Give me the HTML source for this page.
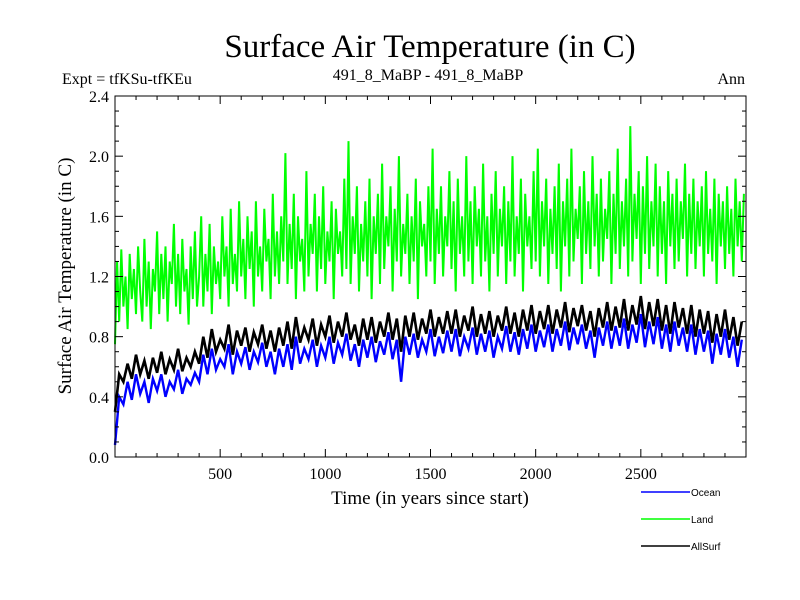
<!DOCTYPE html>
<html><head><meta charset="utf-8"><style>
body{margin:0;background:#fff}
svg{display:block}
.s{font-family:"Liberation Serif",serif;fill:#000}
.l{font-family:"Liberation Sans",sans-serif;font-size:10px;fill:#000}
</style></head><body>
<svg id="c" width="800" height="600" xmlns="http://www.w3.org/2000/svg">
<text class="s" x="430" y="57" font-size="33" text-anchor="middle">Surface Air Temperature (in C)</text>
<text class="s" x="62" y="84" font-size="16">Expt = tfKSu-tfKEu</text>
<text class="s" x="428" y="80" font-size="16" text-anchor="middle">491_8_MaBP - 491_8_MaBP</text>
<text class="s" x="745" y="84" font-size="16" text-anchor="end">Ann</text>
<text class="s" transform="translate(71,276) rotate(-90)" font-size="19" text-anchor="middle">Surface Air Temperature (in C)</text>
<text class="s" x="430" y="504" font-size="19" text-anchor="middle">Time (in years since start)</text>
<g id="series"></g>
<rect x="115" y="96" width="631" height="361" fill="none" stroke="#000" stroke-width="1"/>
<g id="ticks"></g>
<g>
<line x1="641" y1="492" x2="690" y2="492" stroke="#0000ff" stroke-width="1.5"/>
<text class="l" x="691" y="496">Ocean</text>
<line x1="641" y1="519" x2="690" y2="519" stroke="#00ff00" stroke-width="1.5"/>
<text class="l" x="691" y="523">Land</text>
<line x1="641" y1="546" x2="690" y2="546" stroke="#000" stroke-width="1.5"/>
<text class="l" x="691" y="550">AllSurf</text>
</g>
</svg>
<script>
const landYearStep = 10;
const yearStep = 20;
const landValues = [0.75,1.3,0.9,1.38,1.0,1.2,0.85,1.35,1.05,1.25,
0.95,1.4,1.1,0.9,1.45,1.0,1.3,0.85,1.25,1.1,
1.5,0.95,1.35,1.05,1.4,0.9,1.3,1.15,1.55,1.0,
1.35,0.95,1.45,1.1,1.25,0.88,1.4,1.05,1.5,1.0,
1.2,1.6,1.0,1.35,1.1,1.55,0.95,1.4,1.15,1.3,
1.05,1.6,1.2,1.4,1.0,1.65,1.15,1.35,1.1,1.7,
1.2,1.45,1.05,1.6,1.25,1.5,1.0,1.7,1.2,1.4,
1.1,1.65,1.3,1.45,1.05,1.75,1.2,1.5,1.15,1.6,
1.3,2.02,1.15,1.55,1.25,1.75,1.05,1.6,1.3,1.45,
1.1,1.9,1.2,1.55,1.35,1.75,1.1,1.6,1.25,1.8,
1.15,1.5,1.3,1.7,1.05,1.65,1.35,1.5,1.2,1.85,
1.25,2.1,1.15,1.6,1.35,1.8,1.1,1.55,1.3,1.7,
1.2,1.85,1.05,1.6,1.35,1.75,1.15,1.95,1.25,1.6,
1.4,1.8,1.1,1.65,1.3,2.0,1.2,1.55,1.35,1.75,
1.15,1.6,1.3,1.85,1.05,1.7,1.4,1.55,1.2,1.8,
1.3,2.05,1.15,1.65,1.35,1.8,1.2,1.6,1.4,1.9,
1.25,1.7,1.1,1.85,1.35,1.6,1.2,2.0,1.3,1.7,
1.15,1.8,1.4,1.65,1.2,1.95,1.3,1.6,1.1,1.75,
1.35,1.9,1.2,1.65,1.4,1.8,1.15,1.7,1.3,2.0,
1.2,1.6,1.35,1.85,1.1,1.75,1.4,1.6,1.25,1.9,
1.3,2.05,1.2,1.7,1.4,1.85,1.15,1.65,1.35,1.8,
1.25,1.95,1.1,1.7,1.4,1.85,1.2,2.05,1.3,1.65,
1.45,1.8,1.15,1.9,1.35,1.7,1.25,2.0,1.4,1.75,
1.2,1.85,1.3,1.65,1.45,1.9,1.15,1.75,1.35,2.05,
1.25,1.7,1.4,1.85,1.2,2.2,1.3,1.75,1.45,1.9,
1.15,1.8,1.35,2.0,1.25,1.7,1.4,1.95,1.2,1.8,
1.35,1.7,1.15,1.9,1.4,1.75,1.25,1.85,1.3,1.7,
1.45,1.95,1.2,1.75,1.35,1.85,1.25,1.7,1.4,1.8,
1.2,1.9,1.35,1.65,1.3,1.85,1.15,1.75,1.4,1.7,
1.25,1.8,1.35,1.65,1.2,1.85,1.4,1.7,1.3,1.75];
const oceanValues = [0.08,0.4,0.35,0.5,0.38,0.55,0.42,0.5,0.36,0.52,0.44,0.55,0.4,0.5,0.45,0.58,0.42,0.52,0.48,0.56,
0.5,0.68,0.55,0.72,0.58,0.65,0.6,0.75,0.55,0.7,0.62,0.73,0.58,0.7,0.63,0.76,0.6,0.7,0.55,0.72,
0.6,0.75,0.58,0.8,0.62,0.72,0.65,0.78,0.6,0.74,0.66,0.8,0.62,0.76,0.68,0.82,0.64,0.75,0.6,0.78,
0.66,0.8,0.63,0.77,0.68,0.83,0.65,0.78,0.5,0.8,0.68,0.82,0.66,0.78,0.7,0.85,0.67,0.8,0.69,0.84,
0.7,0.85,0.67,0.8,0.72,0.86,0.68,0.82,0.7,0.84,0.66,0.8,0.72,0.87,0.7,0.83,0.68,0.85,0.72,0.88,
0.7,0.84,0.73,0.88,0.7,0.85,0.74,0.9,0.71,0.86,0.75,0.88,0.72,0.84,0.66,0.86,0.74,0.9,0.72,0.87,
0.74,0.92,0.72,0.88,0.76,0.95,0.73,0.9,0.75,0.93,0.72,0.88,0.7,0.9,0.74,0.86,0.7,0.88,0.68,0.85,
0.7,0.84,0.62,0.82,0.68,0.85,0.66,0.8,0.6,0.78];
const allSurfValues = [0.3,0.55,0.5,0.62,0.52,0.68,0.55,0.64,0.52,0.66,0.56,0.7,0.55,0.65,0.58,0.72,0.57,0.66,0.6,0.7,
0.62,0.8,0.66,0.85,0.7,0.78,0.72,0.88,0.68,0.84,0.74,0.86,0.7,0.83,0.75,0.88,0.72,0.84,0.7,0.86,
0.74,0.9,0.72,0.93,0.76,0.86,0.78,0.92,0.74,0.88,0.8,0.94,0.76,0.9,0.8,0.96,0.78,0.88,0.74,0.92,
0.78,0.93,0.76,0.9,0.8,0.96,0.78,0.92,0.7,0.94,0.8,0.96,0.78,0.92,0.82,0.98,0.8,0.93,0.82,0.97,
0.82,0.98,0.8,0.94,0.84,1.0,0.8,0.95,0.82,0.97,0.8,0.94,0.84,1.0,0.82,0.96,0.8,0.98,0.84,1.01,
0.82,0.97,0.85,1.01,0.82,0.98,0.86,1.03,0.83,0.99,0.87,1.01,0.84,0.97,0.8,0.99,0.86,1.03,0.84,1.0,
0.86,1.05,0.84,1.01,0.88,1.07,0.85,1.03,0.87,1.05,0.84,1.01,0.82,1.03,0.86,0.99,0.82,1.01,0.8,0.98,
0.82,0.97,0.76,0.95,0.8,0.98,0.78,0.93,0.74,0.9];
const xTickValues = [500,1000,1500,2000,2500];
const yTickLabels = ["0.0","0.4","0.8","1.2","1.6","2.0","2.4"];

const NS = "http://www.w3.org/2000/svg";
const X0 = 115, X1 = 746, Y0 = 457, Y1 = 96, XMAX = 3000, YMAX = 2.4;
function xs(v){ return X0 + v / XMAX * (X1 - X0); }
function ys(v){ return Y0 - v / YMAX * (Y0 - Y1); }

const g = document.getElementById('series');
function drawSeries(vals, step, color, name, w){
  const p = document.createElementNS(NS, 'polyline');
  p.setAttribute('points', vals.map((v,i)=> xs(i*step).toFixed(1)+','+ys(v).toFixed(1)).join(' '));
  p.setAttribute('fill','none');
  p.setAttribute('stroke',color);
  p.setAttribute('stroke-width',w);
  
  
  g.appendChild(p);
}
drawSeries(landValues, landYearStep, '#00ff00', 'land-line', '2');
drawSeries(allSurfValues, yearStep, '#000000', 'allsurf-line', '2.6');
drawSeries(oceanValues, yearStep, '#0000ff', 'ocean-line', '2.4');

const t = document.getElementById('ticks');
function ln(x1,y1,x2,y2){
  const l = document.createElementNS(NS,'line');
  l.setAttribute('x1',x1);l.setAttribute('y1',y1);l.setAttribute('x2',x2);l.setAttribute('y2',y2);
  l.setAttribute('stroke','#000');l.setAttribute('stroke-width','1');
  
  
  t.appendChild(l);
}
function tx(x,y,s,anchor,name){
  const e = document.createElementNS(NS,'text');
  e.setAttribute('x',x);e.setAttribute('y',y);e.setAttribute('class','s');
  e.setAttribute('font-size','16');e.setAttribute('text-anchor',anchor);
  e.textContent = s;
  
  
  t.appendChild(e);
}
for(let v=100; v<XMAX; v+=100){
  const major = v % 500 === 0, len = major ? 8 : 4, x = xs(v);
  ln(x,Y0,x,Y0-len); ln(x,Y1,x,Y1+len);
}
xTickValues.forEach(v=> tx(xs(v), Y0+22, String(v), 'middle', 'x-tick-label'));
for(let k=1; k<24; k++){
  const v = k/10, major = k % 4 === 0, len = major ? 8 : 4, y = ys(v);
  ln(X0,y,X0+len,y); ln(X1,y,X1-len,y);
}
yTickLabels.forEach(s=> tx(X0-6, ys(parseFloat(s))+6, s, 'end', 'y-tick-label'));
</script>
</body></html>
